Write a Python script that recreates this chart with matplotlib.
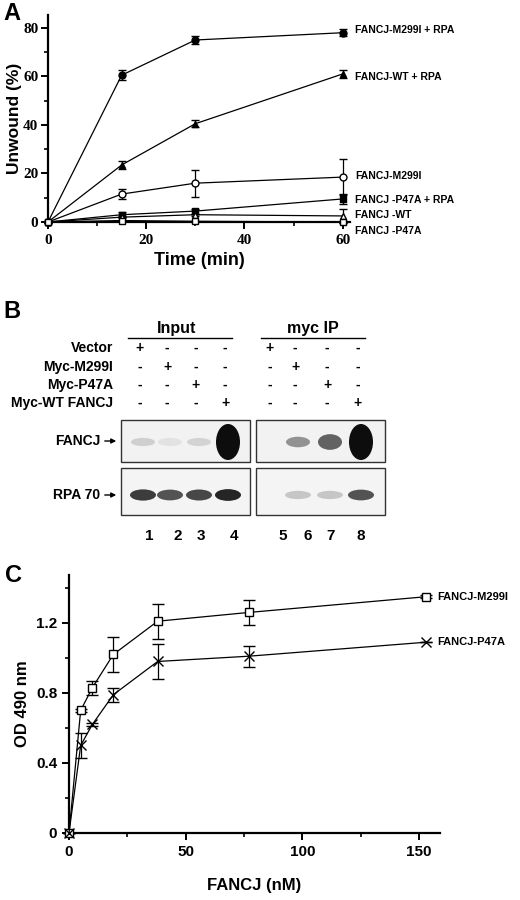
import numpy as np
import matplotlib
matplotlib.use("Agg")
import matplotlib.pyplot as plt
from matplotlib.patches import Ellipse, Rectangle
from matplotlib.ticker import MultipleLocator

plt.rcParams['font.family'] = ['Liberation Sans', 'DejaVu Sans']
plt.rcParams['font.weight'] = 'bold'

# ---- panel A data
t_a = [0, 15, 30, 60]
m299i_rpa = [0, 60.5, 75, 78]
m299i_rpa_err = [0, 2, 1.5, 1.5]
wt_rpa = [0, 23.5, 40.5, 61]
wt_rpa_err = [0, 1.8, 1.5, 1.5]
m299i = [0, 11.5, 16, 18.5]
m299i_err = [0, 2, 5.5, 7.5]
p47a_rpa = [0, 3, 4.5, 9.5]
p47a_rpa_err = [0, 1, 1, 2]
wt = [0, 2, 3, 2.5]
wt_err = [0, 0.5, 0.5, 3]
p47a = [0, 0.6, 0.3, 0]
p47a_err = [0, 0.3, 0.3, 0.3]
labels_a = ["FANCJ-M299I + RPA", "FANCJ-WT + RPA", "FANCJ-M299I",
            "FANCJ -P47A + RPA", "FANCJ -WT", "FANCJ -P47A"]
label_y_a = [79, 59.7, 19, 9, 2.9, -3.7]

# ---- panel B data
row_labels = ["Vector", "Myc-M299I", "Myc-P47A", "Myc-WT FANCJ"]
signs = [["+", "-", "-", "-", "+", "-", "-", "-"],
         ["-", "+", "-", "-", "-", "+", "-", "-"],
         ["-", "-", "+", "-", "-", "-", "+", "-"],
         ["-", "-", "-", "+", "-", "-", "-", "+"]]
lane_numbers = ["1", "2", "3", "4", "5", "6", "7", "8"]
fancj_band = [0.2, 0.12, 0.18, 1.0, 0.0, 0.45, 0.65, 1.0]
rpa_band = [0.85, 0.75, 0.8, 0.95, 0.05, 0.25, 0.25, 0.75]

# ---- panel C data
conc = [0, 5, 10, 19, 38, 77, 153]
od_m299i = [0, 0.70, 0.83, 1.02, 1.21, 1.26, 1.35]
od_m299i_err = [0, 0.01, 0.04, 0.10, 0.10, 0.07, 0.01]
od_p47a = [0, 0.50, 0.62, 0.79, 0.98, 1.01, 1.09]
od_p47a_err = [0, 0.07, 0.01, 0.04, 0.10, 0.06, 0]

W, H = 520, 900
fig = plt.figure(figsize=(5.2, 9), dpi=100)

def px_axes(x0, x1, y0, y1):
    return fig.add_axes([x0 / W, 1 - y1 / H, (x1 - x0) / W, (y1 - y0) / H])

def style(ax):
    for s in ['top', 'right']:
        ax.spines[s].set_visible(False)
    for s in ['left', 'bottom']:
        ax.spines[s].set_linewidth(1.6)
    ax.tick_params(which='major', length=5, width=1.4)
    ax.tick_params(which='minor', length=3, width=1.2)

# ---------- A
ax = px_axes(48, 350, 15, 222)
style(ax)
series = [(m299i_rpa, m299i_rpa_err, 'o', 'k'), (wt_rpa, wt_rpa_err, '^', 'k'),
          (m299i, m299i_err, 'o', 'w'), (p47a_rpa, p47a_rpa_err, 's', 'k'),
          (wt, wt_err, '^', 'w'), (p47a, p47a_err, 's', 'w')]
for (y, e, m, fc), lab, ly in zip(series, labels_a, label_y_a):
    ax.errorbar(t_a, y, yerr=e, color='k', marker=m, mfc=fc, mec='k', ms=5,
                lw=0.9, capsize=3, elinewidth=0.9, clip_on=False, zorder=3)
    ax.text(62.5, ly, lab, fontsize=7.5, fontweight='bold', va='center', clip_on=False)
ax.set_xlim(0, 61.5)
ax.set_ylim(0, 85.3)
ax.xaxis.set_major_locator(MultipleLocator(20))
ax.xaxis.set_minor_locator(MultipleLocator(10))
ax.yaxis.set_major_locator(MultipleLocator(20))
ax.yaxis.set_minor_locator(MultipleLocator(10))
ax.tick_params(axis='y', pad=2)
for lbl in ax.get_xticklabels() + ax.get_yticklabels():
    lbl.set_family('Liberation Serif')
    lbl.set_fontsize(11)
ax.set_xlabel("Time (min)", fontsize=13, fontweight='bold')
ax.set_ylabel("Unwound (%)", fontsize=12.5, fontweight='bold', labelpad=1)
fig.text(3 / W, 1 - 14 / H, "A", fontsize=17, fontweight='bold', va='center')

# ---------- B (drawn in pixel coordinates)
bx = fig.add_axes([0, 0, 1, 1])
bx.set_xlim(0, W)
bx.set_ylim(H, 0)
bx.axis('off')
bx.text(3, 312, "B", fontsize=17, fontweight='bold', va='center')
for name, xc, x0, x1 in [("Input", 177, 128, 232), ("myc IP", 313, 261, 365)]:
    bx.text(xc, 328, name, fontsize=11.5, fontweight='bold', ha='center', va='center')
    bx.plot([x0, x1], [338, 338], color='k', lw=1)
lane_x = [140, 167, 196, 225, 270, 295, 327, 358]
row_y = [348, 367, 385, 403]
for r, (lab, ry) in enumerate(zip(row_labels, row_y)):
    bx.text(113, ry, lab, fontsize=10, fontweight='bold', ha='right', va='center')
    for lx, sgn in zip(lane_x, signs[r]):
        bx.text(lx, ry, sgn, fontsize=10, fontweight='bold', ha='center', va='center')
for x0 in (121, 256):
    bx.add_patch(Rectangle((x0, 420), 129, 42, fc='#f2f2f2', ec='#333', lw=1))
    bx.add_patch(Rectangle((x0, 468), 129, 47, fc='#f4f4f4', ec='#333', lw=1))
for lx, fb, rb in zip(lane_x, fancj_band, rpa_band):
    if fb > 0:
        h = 8 + 28 * fb ** 3
        bx.add_patch(Ellipse((lx + 3, 442), 24, h, fc=str(1 - 0.95 * fb), ec='none'))
    bx.add_patch(Ellipse((lx + 3, 495), 26, 7 + 5 * rb, fc=str(1 - 0.9 * rb), ec='none'))
bx.annotate("", xy=(119, 441), xytext=(102, 441),
            arrowprops=dict(arrowstyle='-|>', color='k', lw=1, mutation_scale=7))
bx.text(100, 441, "FANCJ", fontsize=10, fontweight='bold', ha='right', va='center')
bx.annotate("", xy=(119, 495), xytext=(102, 495),
            arrowprops=dict(arrowstyle='-|>', color='k', lw=1, mutation_scale=7))
bx.text(100, 495, "RPA 70", fontsize=10, fontweight='bold', ha='right', va='center')
num_x = [149, 178, 201, 234, 283, 308, 331, 361]
for nx, n in zip(num_x, lane_numbers):
    bx.text(nx, 536, n, fontsize=11, fontweight='bold', ha='center', va='center')

# ---------- C
cx = px_axes(69, 440, 575, 833)
style(cx)
cx.errorbar(conc, od_m299i, yerr=od_m299i_err, color='k', marker='s', mfc='w',
            mec='k', ms=6, lw=0.9, capsize=4, elinewidth=0.9, clip_on=False, zorder=3)
cx.errorbar(conc, od_p47a, yerr=od_p47a_err, color='k', marker='x', ms=7, mew=1,
            lw=0.9, capsize=4, elinewidth=0.9, clip_on=False, zorder=3)
cx.text(158, 1.35, "FANCJ-M299I", fontsize=8, fontweight='bold', va='center', clip_on=False)
cx.text(158, 1.09, "FANCJ-P47A", fontsize=8, fontweight='bold', va='center', clip_on=False)
cx.set_xlim(0, 159)
cx.set_ylim(0, 1.474)
cx.set_xticks([0, 50, 100, 150])
cx.xaxis.set_minor_locator(MultipleLocator(25))
cx.set_yticks([0, 0.4, 0.8, 1.2])
cx.set_yticklabels(["0", "0.4", "0.8", "1.2"])
cx.yaxis.set_minor_locator(MultipleLocator(0.2))
cx.tick_params(labelsize=11)
cx.set_xlabel("FANCJ (nM)", fontsize=12, fontweight='bold', labelpad=14)
cx.set_ylabel("OD 490 nm", fontsize=12, fontweight='bold')
fig.text(5 / W, 1 - 575 / H, "C", fontsize=17, fontweight='bold', va='center')

fig.savefig("out.png", dpi=100)
